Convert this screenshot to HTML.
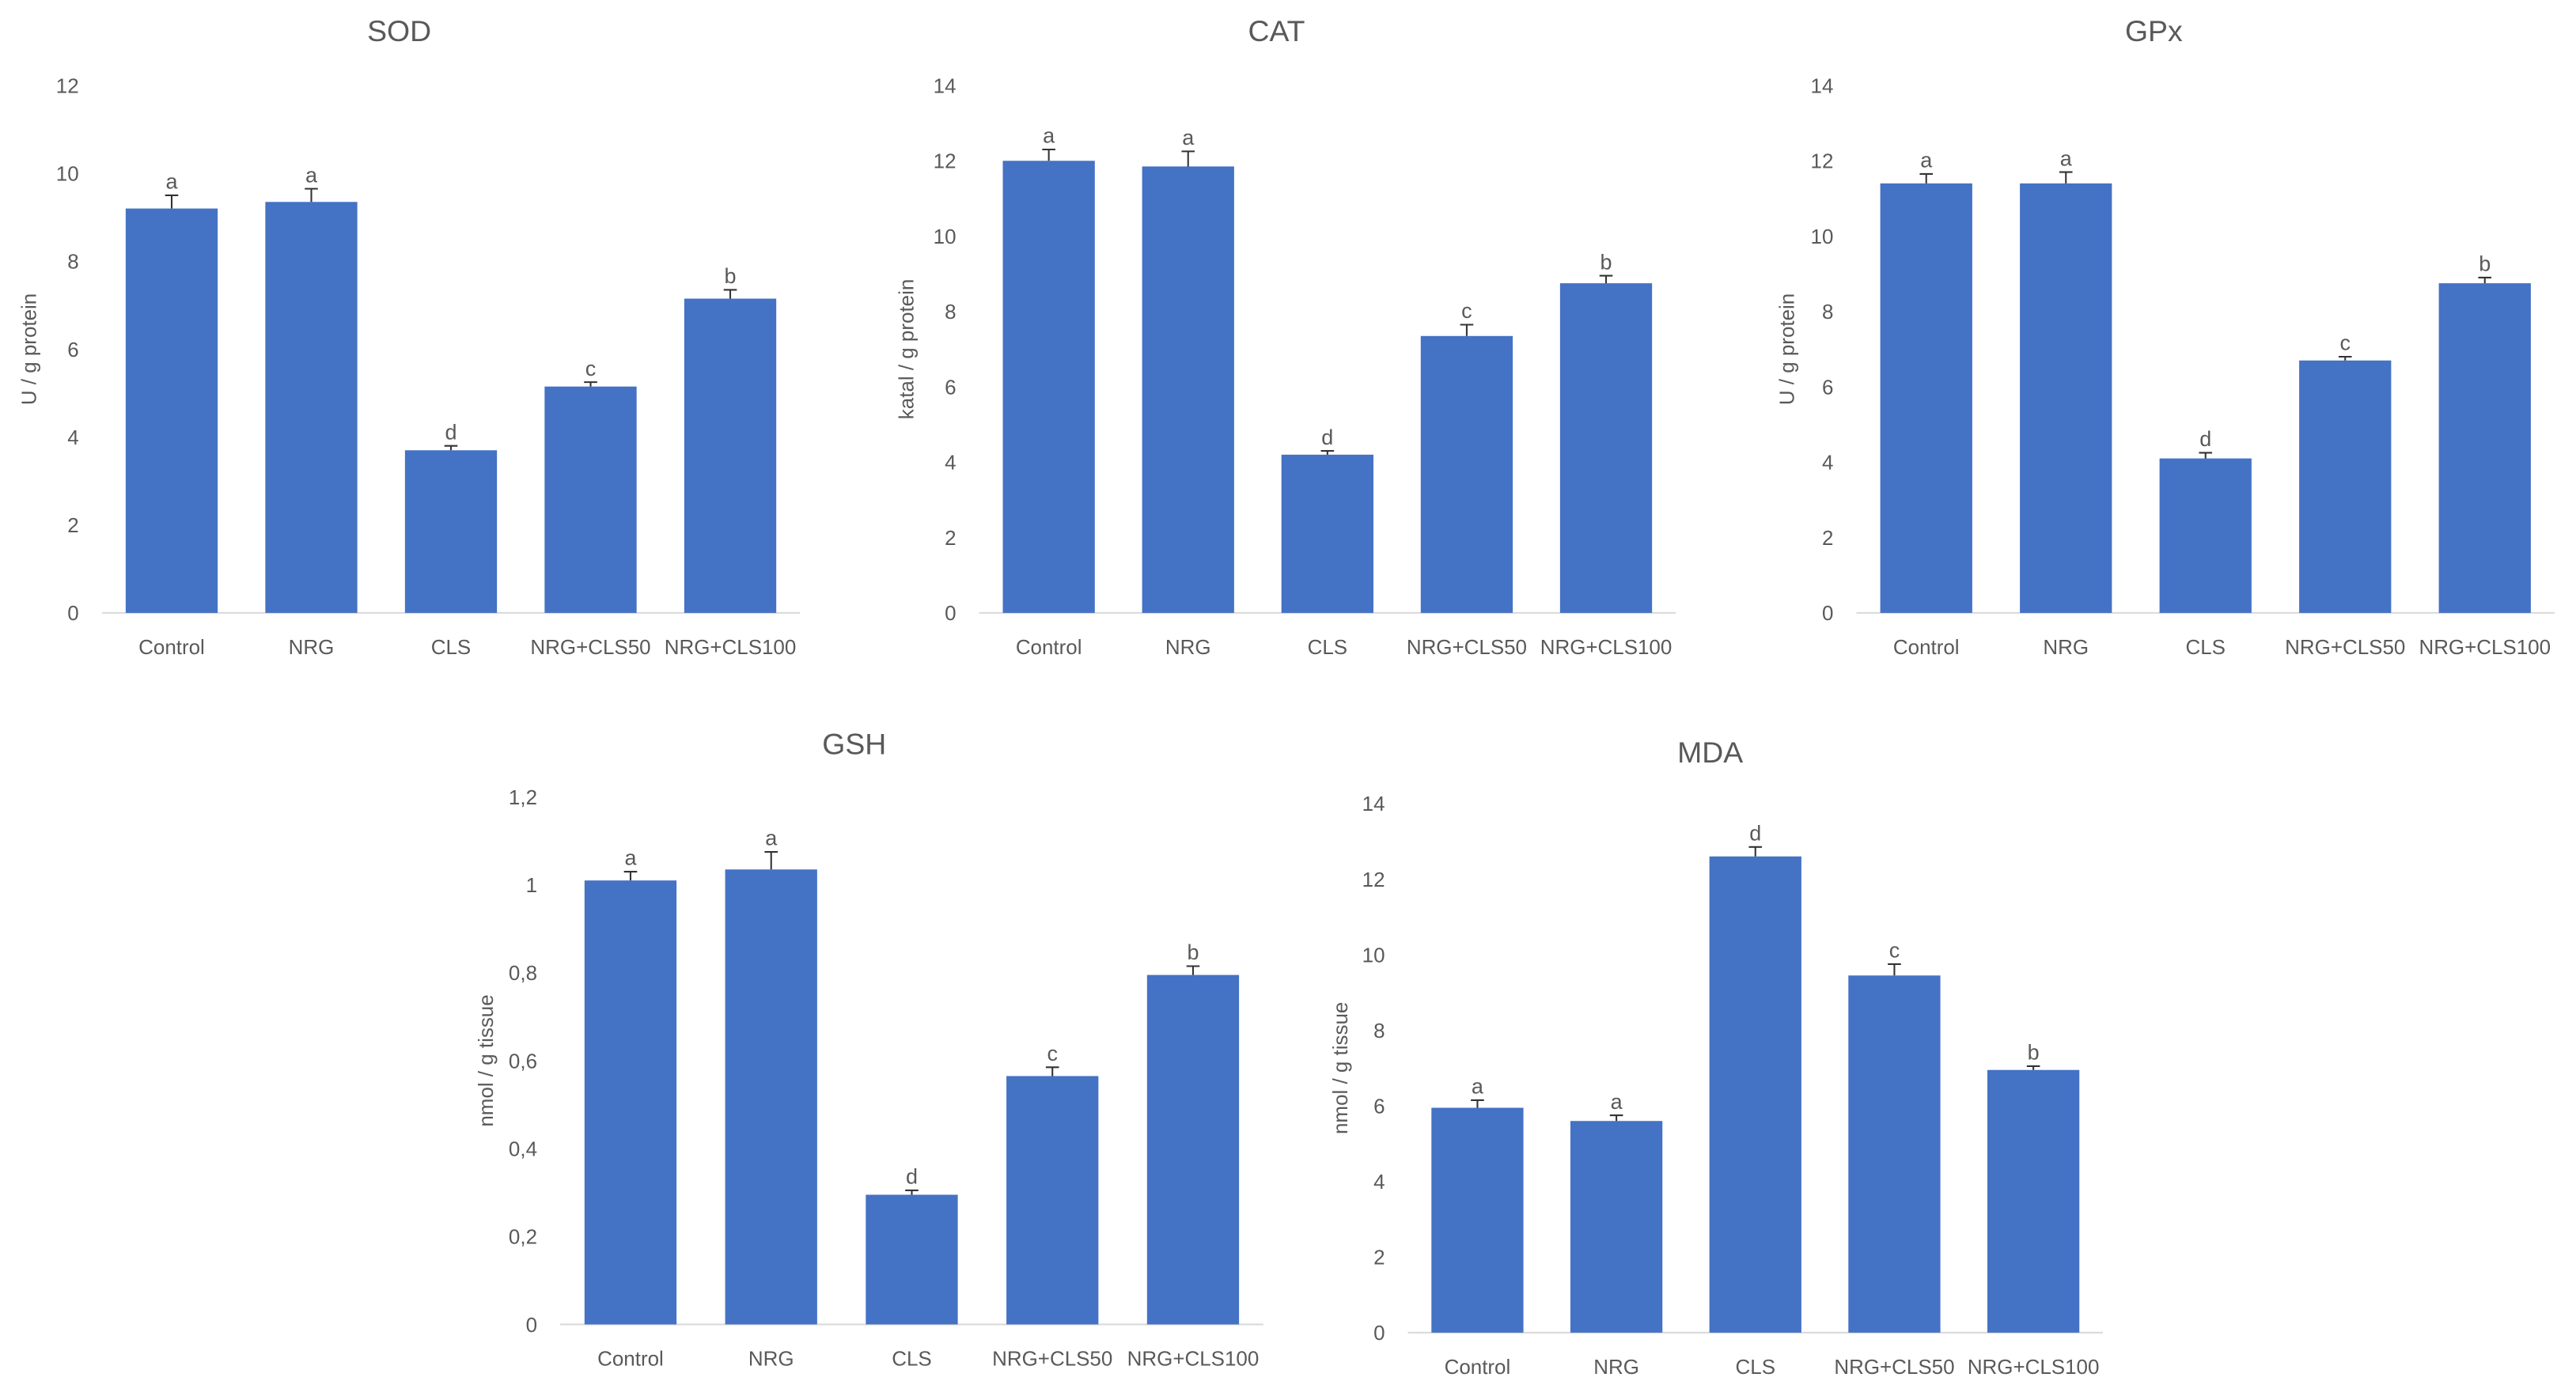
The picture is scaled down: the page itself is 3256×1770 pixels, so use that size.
<!DOCTYPE html>
<html><head><meta charset="utf-8"><style>
html,body{margin:0;padding:0;background:#fff;}
svg{display:block;}
text{font-family:"Liberation Sans",sans-serif;fill:#595959;}
</style></head><body>
<svg id="fig" width="3256" height="1770" viewBox="0 0 1568 852" preserveAspectRatio="none" xmlns="http://www.w3.org/2000/svg"></svg>
<script>
const categories = ["Control","NRG","CLS","NRG+CLS50","NRG+CLS100"];
const sodValues = [9.2, 9.35, 3.7, 5.15, 7.15];
const sodErrors = [0.3, 0.3, 0.1, 0.1, 0.2];
const sodLetters = ["a","a","d","c","b"];
const catValues = [12.0, 11.85, 4.2, 7.35, 8.75];
const catErrors = [0.3, 0.4, 0.1, 0.3, 0.2];
const catLetters = ["a","a","d","c","b"];
const gpxValues = [11.4, 11.4, 4.1, 6.7, 8.75];
const gpxErrors = [0.25, 0.3, 0.15, 0.1, 0.15];
const gpxLetters = ["a","a","d","c","b"];
const gshValues = [1.01, 1.035, 0.295, 0.565, 0.795];
const gshErrors = [0.02, 0.04, 0.01, 0.02, 0.02];
const gshLetters = ["a","a","d","c","b"];
const mdaValues = [5.95, 5.6, 12.6, 9.45, 6.95];
const mdaErrors = [0.2, 0.15, 0.25, 0.3, 0.1];
const mdaLetters = ["a","a","d","c","b"];
const ticks12 = ["0","2","4","6","8","10","12"];
const ticks14 = ["0","2","4","6","8","10","12","14"];
const ticksGsh = ["0","0,2","0,4","0,6","0,8","1","1,2"];

const NS = "http://www.w3.org/2000/svg";
const svg = document.getElementById("fig");
function mk(tag, attrs, parent){
  const e = document.createElementNS(NS, tag);
  for (const k in attrs) e.setAttribute(k, attrs[k]);
  (parent||svg).appendChild(e);
  return e;
}
function chart(cfg){
  const g = mk("g", {});
  
  
  const ymax = cfg.max;
  const y = v => cfg.y0 - (v / ymax) * (cfg.y0 - cfg.yTop);
  const t = mk("text", {x: cfg.titleX, y: cfg.titleY, "font-size": 18, "text-anchor": "middle"}, g);
  t.textContent = cfg.name.toUpperCase() === "GPX" ? "GPx" : cfg.title;
  
  
  cfg.ticks.forEach((lab, i) => {
    const v = ymax * i / (cfg.ticks.length - 1);
    const tx = mk("text", {x: cfg.axisX0 - 14, y: y(v) + 4.5, "font-size": 12.5, "text-anchor": "end"}, g);
    tx.textContent = lab;
    
    
  });
  const yl = mk("text", {x: 0, y: 0, "font-size": 12.5, "text-anchor": "middle", transform: `translate(${cfg.ylabX},${(cfg.y0 + cfg.yTop)/2}) rotate(-90)`}, g);
  yl.textContent = cfg.ylab;
  
  
  const ax = mk("line", {x1: cfg.axisX0, x2: cfg.axisX1, y1: cfg.y0, y2: cfg.y0, stroke: "#d9d9d9", "stroke-width": 1}, g);
  
  
  const step = (cfg.axisX1 - cfg.axisX0) / categories.length;
  const bw = 56;
  categories.forEach((c, i) => {
    const cx = cfg.axisX0 + step * (i + 0.5);
    const v = cfg.values[i], e = cfg.errors[i];
    const r = mk("rect", {x: cx - bw/2, y: y(v), width: bw, height: cfg.y0 - y(v), fill: "#4472C4"}, g);
    
    
    const et = y(v + e);
    const el = mk("path", {d: `M${cx},${y(v)}V${et}M${cx-4},${et}H${cx+4}`, stroke: "#333", "stroke-width": 1, fill: "none"}, g);
    
    
    const lt = mk("text", {x: cx, y: et - 4, "font-size": 13, "text-anchor": "middle", fill: "#333"}, g);
    lt.textContent = cfg.letters[i];
    
    
    const cl = mk("text", {x: cx, y: cfg.y0 + 25, "font-size": 12.5, "text-anchor": "middle"}, g);
    cl.textContent = c;
    
    
  });
}
chart({name:"sod", title:"SOD", titleX:243, titleY:25, max:12, ticks:ticks12, yTop:52, y0:373, axisX0:62, axisX1:487, ylabX:22, ylab:"U / g protein", values:sodValues, errors:sodErrors, letters:sodLetters});
chart({name:"cat", title:"CAT", titleX:777, titleY:25, max:14, ticks:ticks14, yTop:52, y0:373, axisX0:596, axisX1:1020, ylabX:556, ylab:"katal / g protein", values:catValues, errors:catErrors, letters:catLetters});
chart({name:"gpx", title:"GPx", titleX:1311, titleY:25, max:14, ticks:ticks14, yTop:52, y0:373, axisX0:1130, axisX1:1555, ylabX:1092, ylab:"U / g protein", values:gpxValues, errors:gpxErrors, letters:gpxLetters});
chart({name:"gsh", title:"GSH", titleX:520, titleY:459, max:1.2, ticks:ticksGsh, yTop:485, y0:806, axisX0:341, axisX1:769, ylabX:300, ylab:"nmol / g tissue", values:gshValues, errors:gshErrors, letters:gshLetters});
chart({name:"mda", title:"MDA", titleX:1041, titleY:464, max:14, ticks:ticks14, yTop:489, y0:811, axisX0:857, axisX1:1280, ylabX:820, ylab:"nmol / g tissue", values:mdaValues, errors:mdaErrors, letters:mdaLetters});
</script>
</body></html>
